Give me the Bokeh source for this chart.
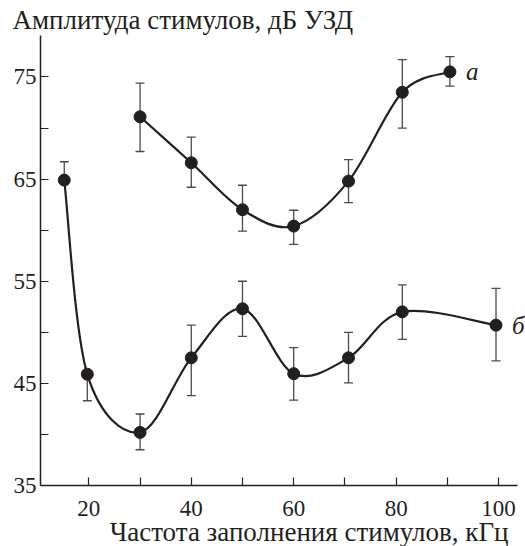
import numpy as np
from bokeh.plotting import figure
from bokeh.models import ColumnDataSource, Whisker, FixedTicker, Range1d, Title, TeeHead, Label
from bokeh.embed import file_html
from bokeh.resources import INLINE

# ---- data ----
a_x = [30, 40, 50, 60, 70.7, 81.2, 90.5]
a_y = [71.1, 66.6, 62.0, 60.4, 64.8, 73.5, 75.5]
a_hi = [74.4, 69.1, 64.4, 61.95, 66.9, 76.7, 77.0]
a_lo = [67.7, 64.2, 59.9, 58.6, 62.7, 70.0, 74.1]

b_x = [15.2, 19.7, 30, 40, 50, 60, 70.7, 81.2, 99.5]
b_y = [64.9, 45.9, 40.2, 47.5, 52.3, 45.95, 47.5, 52.0, 50.7]
b_hi = [66.7, 45.9, 42.0, 50.7, 55.0, 48.5, 50.0, 54.65, 54.3]
b_lo = [64.9, 43.3, 38.5, 43.8, 49.6, 43.35, 45.05, 49.3, 47.2]

x_ticks = [20, 40, 60, 80, 100]
x_minor = [30, 50, 70, 90]
y_ticks = [35, 45, 55, 65, 75]
y_minor = [40, 50, 60, 70]
x_axis_span = (10.56, 103.7)

series_labels = ["a", "б"]
title_text = "Амплитуда стимулов, дБ УЗД"
xlabel_text = "Частота заполнения стимулов, кГц"

INK = "#231f20"
BAR = "#4a4a4a"
FONT = "Liberation Serif"


def smooth_segments(xs, ys):
    """Catmull-Rom curve through the data points as cubic Bezier segments."""
    P = np.column_stack([xs, ys]).astype(float)
    n = len(P)
    out = {k: [] for k in ("x0", "y0", "x1", "y1", "cx0", "cy0", "cx1", "cy1")}
    for i in range(n - 1):
        p0 = P[i - 1] if i > 0 else P[i]
        p1 = P[i]
        p2 = P[i + 1]
        p3 = P[i + 2] if i + 2 < n else P[i + 1]
        c0 = p1 + (p2 - p0) / 6.0
        c1 = p2 - (p3 - p1) / 6.0
        out["x0"].append(p1[0]); out["y0"].append(p1[1])
        out["x1"].append(p2[0]); out["y1"].append(p2[1])
        out["cx0"].append(c0[0]); out["cy0"].append(c0[1])
        out["cx1"].append(c1[0]); out["cy1"].append(c1[1])
    return out


p = figure(width=525, height=546, output_backend="svg", toolbar_location=None,
           x_range=Range1d(10.56, 105.26), y_range=Range1d(35, 79.06),
           min_border_left=40, min_border_right=0, min_border_top=35, min_border_bottom=61)
p.outline_line_color = None
p.xgrid.visible = False
p.ygrid.visible = False
p.background_fill_color = "white"
p.border_fill_color = "white"

p.title.text = title_text
p.title.align = "left"
p.title.offset = -28
p.title.standoff = 2
p.title.text_font = FONT
p.title.text_font_size = "27px"
p.title.text_font_style = "normal"
p.title.text_color = INK

for ax in (p.xaxis[0], p.yaxis[0]):
    ax.axis_line_color = INK
    ax.axis_line_width = 1.5
    ax.major_tick_line_color = INK
    ax.minor_tick_line_color = INK
    ax.major_tick_line_width = 1.2
    ax.minor_tick_line_width = 1.2
    ax.major_tick_in = 8
    ax.major_tick_out = 0
    ax.minor_tick_in = 8
    ax.minor_tick_out = 0
    ax.major_label_text_font = FONT
    ax.major_label_text_font_size = "23px"
    ax.major_label_text_color = INK

p.xaxis.bounds = x_axis_span
p.xaxis.ticker = FixedTicker(ticks=x_ticks, minor_ticks=x_minor)
p.yaxis.ticker = FixedTicker(ticks=y_ticks, minor_ticks=y_minor)
p.xaxis.major_label_standoff = 15
p.yaxis.major_label_standoff = 4

xl = Title(text=xlabel_text, align="right", text_font=FONT, text_font_size="27px",
           text_font_style="normal", text_color=INK, offset=17, standoff=-8)
p.add_layout(xl, "below")

for xs, ys, hi, lo, lab in ((a_x, a_y, a_hi, a_lo, series_labels[0]),
                             (b_x, b_y, b_hi, b_lo, series_labels[1])):
    src = ColumnDataSource(dict(x=xs, y=ys, hi=hi, lo=lo))
    w = Whisker(base="x", upper="hi", lower="lo", source=src,
                line_color=BAR, line_width=1.3,
                upper_head=TeeHead(size=9, line_color=BAR, line_width=1.3),
                lower_head=TeeHead(size=9, line_color=BAR, line_width=1.3))
    p.add_layout(w)
    seg = smooth_segments(xs, ys)
    p.bezier(source=ColumnDataSource(seg), x0="x0", y0="y0", x1="x1", y1="y1",
             cx0="cx0", cy0="cy0", cx1="cx1", cy1="cy1",
             line_color=INK, line_width=2.2)
    p.scatter("x", "y", source=src, size=12, color=INK)
    p.add_layout(Label(x=xs[-1], y=ys[-1], text=lab, x_offset=16,
                       text_baseline="middle",
                       text_font=FONT, text_font_style="italic",
                       text_font_size="25px", text_color=INK))

open("out.html", "w").write(file_html(p, INLINE))
